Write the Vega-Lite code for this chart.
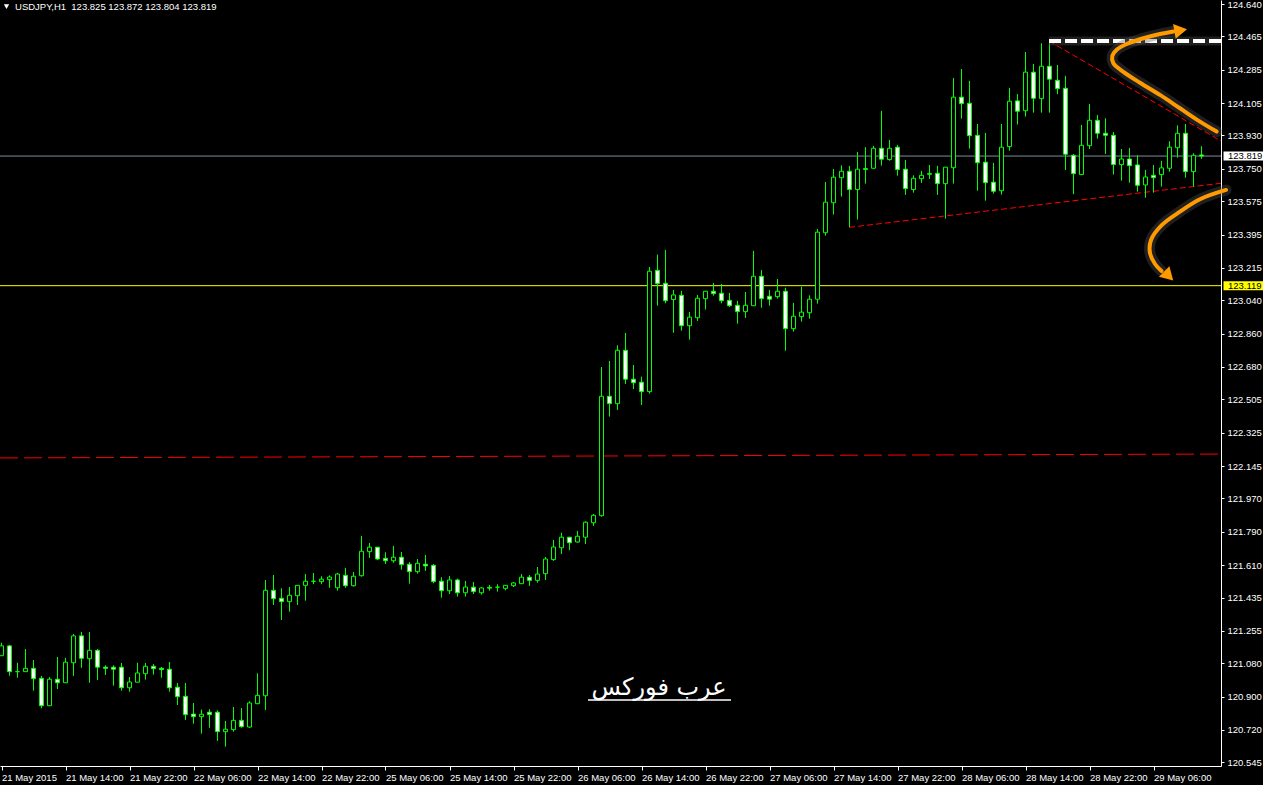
{
"$schema": "https://vega.github.io/schema/vega-lite/v6.json",
"width": 1221, "height": 766,
"autosize": {"type": "none"},
"padding": {"left": 0, "top": 0, "right": 42, "bottom": 19},
"background": "#000000",
"config": {"view": {"stroke": null}, "axis": {"grid": false, "labelOverlap": false}, "scale": {"continuousPadding": 0}},
"datasets": {
"candles": [
{"k":0,"o":121.121,"h":121.191,"l":121.121,"c":121.174},
{"k":1,"o":121.174,"h":121.179,"l":121.013,"c":121.035},
{"k":2,"o":121.035,"h":121.083,"l":121.002,"c":121.035},
{"k":3,"o":121.035,"h":121.157,"l":121.035,"c":121.053},
{"k":4,"o":121.053,"h":121.098,"l":120.932,"c":120.997},
{"k":5,"o":120.999,"h":121.012,"l":120.837,"c":120.851},
{"k":6,"o":120.851,"h":121.006,"l":120.851,"c":120.994},
{"k":7,"o":120.994,"h":121.114,"l":120.941,"c":120.975},
{"k":8,"o":120.975,"h":121.110,"l":120.975,"c":121.086},
{"k":9,"o":121.083,"h":121.238,"l":121.012,"c":121.228},
{"k":10,"o":121.228,"h":121.249,"l":121.056,"c":121.107},
{"k":11,"o":121.105,"h":121.249,"l":120.975,"c":121.150},
{"k":12,"o":121.150,"h":121.157,"l":120.990,"c":121.059},
{"k":13,"o":121.059,"h":121.069,"l":121.017,"c":121.053},
{"k":14,"o":121.059,"h":121.069,"l":120.959,"c":121.048},
{"k":15,"o":121.059,"h":121.082,"l":120.932,"c":120.948},
{"k":16,"o":120.948,"h":121.006,"l":120.927,"c":120.979},
{"k":17,"o":120.978,"h":121.083,"l":120.978,"c":121.028},
{"k":18,"o":121.024,"h":121.082,"l":120.992,"c":121.064},
{"k":19,"o":121.064,"h":121.076,"l":121.019,"c":121.051},
{"k":20,"o":121.053,"h":121.060,"l":121.002,"c":121.046},
{"k":21,"o":121.048,"h":121.087,"l":120.927,"c":120.948},
{"k":22,"o":120.951,"h":120.974,"l":120.855,"c":120.900},
{"k":23,"o":120.902,"h":120.974,"l":120.774,"c":120.803},
{"k":24,"o":120.806,"h":120.866,"l":120.754,"c":120.792},
{"k":25,"o":120.792,"h":120.830,"l":120.700,"c":120.805},
{"k":26,"o":120.816,"h":120.832,"l":120.732,"c":120.803},
{"k":27,"o":120.816,"h":120.826,"l":120.661,"c":120.711},
{"k":28,"o":120.711,"h":120.769,"l":120.630,"c":120.724},
{"k":29,"o":120.722,"h":120.844,"l":120.711,"c":120.772},
{"k":30,"o":120.772,"h":120.839,"l":120.732,"c":120.738},
{"k":31,"o":120.736,"h":120.875,"l":120.732,"c":120.866},
{"k":32,"o":120.862,"h":121.026,"l":120.859,"c":120.907},
{"k":33,"o":120.905,"h":121.530,"l":120.828,"c":121.474},
{"k":34,"o":121.474,"h":121.557,"l":121.395,"c":121.429},
{"k":35,"o":121.431,"h":121.485,"l":121.314,"c":121.413},
{"k":36,"o":121.413,"h":121.492,"l":121.359,"c":121.447},
{"k":37,"o":121.445,"h":121.501,"l":121.395,"c":121.501},
{"k":38,"o":121.501,"h":121.562,"l":121.418,"c":121.523},
{"k":39,"o":121.523,"h":121.568,"l":121.507,"c":121.523},
{"k":40,"o":121.521,"h":121.550,"l":121.507,"c":121.534},
{"k":41,"o":121.532,"h":121.555,"l":121.488,"c":121.546},
{"k":42,"o":121.488,"h":121.568,"l":121.472,"c":121.562},
{"k":43,"o":121.555,"h":121.595,"l":121.488,"c":121.499},
{"k":44,"o":121.499,"h":121.573,"l":121.494,"c":121.550},
{"k":45,"o":121.553,"h":121.768,"l":121.548,"c":121.685},
{"k":46,"o":121.683,"h":121.730,"l":121.649,"c":121.707},
{"k":47,"o":121.707,"h":121.707,"l":121.638,"c":121.643},
{"k":48,"o":121.647,"h":121.680,"l":121.616,"c":121.634},
{"k":49,"o":121.634,"h":121.714,"l":121.623,"c":121.653},
{"k":50,"o":121.653,"h":121.681,"l":121.586,"c":121.613},
{"k":51,"o":121.615,"h":121.626,"l":121.510,"c":121.575},
{"k":52,"o":121.575,"h":121.643,"l":121.564,"c":121.620},
{"k":53,"o":121.615,"h":121.665,"l":121.579,"c":121.606},
{"k":54,"o":121.609,"h":121.616,"l":121.512,"c":121.521},
{"k":55,"o":121.523,"h":121.545,"l":121.434,"c":121.472},
{"k":56,"o":121.472,"h":121.552,"l":121.454,"c":121.530},
{"k":57,"o":121.530,"h":121.537,"l":121.440,"c":121.461},
{"k":58,"o":121.461,"h":121.525,"l":121.440,"c":121.492},
{"k":59,"o":121.491,"h":121.519,"l":121.454,"c":121.467},
{"k":60,"o":121.461,"h":121.492,"l":121.451,"c":121.487},
{"k":61,"o":121.490,"h":121.503,"l":121.472,"c":121.486},
{"k":62,"o":121.491,"h":121.507,"l":121.467,"c":121.491},
{"k":63,"o":121.485,"h":121.501,"l":121.474,"c":121.501},
{"k":64,"o":121.499,"h":121.519,"l":121.492,"c":121.514},
{"k":65,"o":121.510,"h":121.562,"l":121.510,"c":121.545},
{"k":66,"o":121.545,"h":121.557,"l":121.498,"c":121.528},
{"k":67,"o":121.528,"h":121.600,"l":121.515,"c":121.562},
{"k":68,"o":121.564,"h":121.654,"l":121.530,"c":121.643},
{"k":69,"o":121.640,"h":121.746,"l":121.633,"c":121.708},
{"k":70,"o":121.704,"h":121.785,"l":121.670,"c":121.761},
{"k":71,"o":121.761,"h":121.761,"l":121.692,"c":121.731},
{"k":72,"o":121.735,"h":121.795,"l":121.731,"c":121.766},
{"k":73,"o":121.761,"h":121.847,"l":121.724,"c":121.842},
{"k":74,"o":121.839,"h":121.886,"l":121.822,"c":121.879},
{"k":75,"o":121.877,"h":122.680,"l":121.872,"c":122.522},
{"k":76,"o":122.522,"h":122.713,"l":122.412,"c":122.482},
{"k":77,"o":122.482,"h":122.797,"l":122.448,"c":122.770},
{"k":78,"o":122.770,"h":122.864,"l":122.588,"c":122.614},
{"k":79,"o":122.614,"h":122.691,"l":122.561,"c":122.595},
{"k":80,"o":122.598,"h":122.628,"l":122.475,"c":122.547},
{"k":81,"o":122.547,"h":123.220,"l":122.536,"c":123.197},
{"k":82,"o":123.202,"h":123.287,"l":123.011,"c":123.130},
{"k":83,"o":123.132,"h":123.312,"l":123.024,"c":123.038},
{"k":84,"o":123.044,"h":123.096,"l":122.865,"c":123.069},
{"k":85,"o":123.067,"h":123.091,"l":122.876,"c":122.903},
{"k":86,"o":122.903,"h":122.977,"l":122.828,"c":122.949},
{"k":87,"o":122.946,"h":123.069,"l":122.929,"c":123.051},
{"k":88,"o":123.049,"h":123.089,"l":122.990,"c":123.089},
{"k":89,"o":123.089,"h":123.134,"l":123.065,"c":123.076},
{"k":90,"o":123.078,"h":123.128,"l":123.024,"c":123.038},
{"k":91,"o":123.040,"h":123.080,"l":123.004,"c":123.011},
{"k":92,"o":123.013,"h":123.037,"l":122.914,"c":122.979},
{"k":93,"o":122.979,"h":123.085,"l":122.945,"c":123.013},
{"k":94,"o":123.011,"h":123.307,"l":123.011,"c":123.170},
{"k":95,"o":123.170,"h":123.204,"l":123.000,"c":123.049},
{"k":96,"o":123.062,"h":123.096,"l":123.011,"c":123.046},
{"k":97,"o":123.060,"h":123.155,"l":123.049,"c":123.089},
{"k":98,"o":123.089,"h":123.108,"l":122.768,"c":122.887},
{"k":99,"o":122.887,"h":123.026,"l":122.871,"c":122.954},
{"k":100,"o":122.952,"h":123.114,"l":122.925,"c":122.976},
{"k":101,"o":122.973,"h":123.067,"l":122.941,"c":123.046},
{"k":102,"o":123.046,"h":123.425,"l":123.022,"c":123.408},
{"k":103,"o":123.405,"h":123.679,"l":123.389,"c":123.570},
{"k":104,"o":123.567,"h":123.749,"l":123.503,"c":123.705},
{"k":105,"o":123.702,"h":123.769,"l":123.600,"c":123.737},
{"k":106,"o":123.737,"h":123.766,"l":123.435,"c":123.638},
{"k":107,"o":123.638,"h":123.841,"l":123.476,"c":123.748},
{"k":108,"o":123.751,"h":123.867,"l":123.670,"c":123.747},
{"k":109,"o":123.753,"h":123.874,"l":123.751,"c":123.861},
{"k":110,"o":123.861,"h":124.063,"l":123.767,"c":123.802},
{"k":111,"o":123.800,"h":123.906,"l":123.794,"c":123.861},
{"k":112,"o":123.867,"h":123.879,"l":123.713,"c":123.746},
{"k":113,"o":123.748,"h":123.798,"l":123.609,"c":123.643},
{"k":114,"o":123.638,"h":123.715,"l":123.621,"c":123.699},
{"k":115,"o":123.697,"h":123.739,"l":123.674,"c":123.715},
{"k":116,"o":123.724,"h":123.771,"l":123.695,"c":123.721},
{"k":117,"o":123.726,"h":123.766,"l":123.609,"c":123.670},
{"k":118,"o":123.670,"h":123.759,"l":123.481,"c":123.759},
{"k":119,"o":123.756,"h":124.241,"l":123.670,"c":124.137},
{"k":120,"o":124.137,"h":124.289,"l":124.021,"c":124.102},
{"k":121,"o":124.104,"h":124.225,"l":123.859,"c":123.929},
{"k":122,"o":123.931,"h":123.992,"l":123.632,"c":123.783},
{"k":123,"o":123.786,"h":123.944,"l":123.578,"c":123.675},
{"k":124,"o":123.678,"h":123.782,"l":123.616,"c":123.629},
{"k":125,"o":123.632,"h":123.992,"l":123.611,"c":123.867},
{"k":126,"o":123.870,"h":124.187,"l":123.848,"c":124.115},
{"k":127,"o":124.117,"h":124.154,"l":123.989,"c":124.061},
{"k":128,"o":124.064,"h":124.381,"l":124.032,"c":124.272},
{"k":129,"o":124.272,"h":124.316,"l":124.053,"c":124.131},
{"k":130,"o":124.129,"h":124.428,"l":124.053,"c":124.304},
{"k":131,"o":124.304,"h":124.441,"l":124.053,"c":124.234},
{"k":132,"o":124.228,"h":124.311,"l":124.153,"c":124.183},
{"k":133,"o":124.185,"h":124.252,"l":123.744,"c":123.829},
{"k":134,"o":123.823,"h":123.830,"l":123.613,"c":123.724},
{"k":135,"o":123.719,"h":123.987,"l":123.719,"c":123.877},
{"k":136,"o":123.875,"h":124.100,"l":123.857,"c":124.012},
{"k":137,"o":124.012,"h":124.041,"l":123.913,"c":123.942},
{"k":138,"o":123.942,"h":124.023,"l":123.830,"c":123.931},
{"k":139,"o":123.931,"h":123.949,"l":123.719,"c":123.773},
{"k":140,"o":123.773,"h":123.857,"l":123.686,"c":123.803},
{"k":141,"o":123.803,"h":123.863,"l":123.675,"c":123.767},
{"k":142,"o":123.771,"h":123.823,"l":123.627,"c":123.661},
{"k":143,"o":123.663,"h":123.744,"l":123.594,"c":123.706},
{"k":144,"o":123.715,"h":123.771,"l":123.621,"c":123.702},
{"k":145,"o":123.719,"h":123.793,"l":123.654,"c":123.755},
{"k":146,"o":123.753,"h":123.899,"l":123.735,"c":123.867},
{"k":147,"o":123.864,"h":123.985,"l":123.810,"c":123.942},
{"k":148,"o":123.942,"h":123.992,"l":123.702,"c":123.735},
{"k":149,"o":123.735,"h":123.834,"l":123.654,"c":123.823},
{"k":150,"o":123.825,"h":123.872,"l":123.804,"c":123.819}
],
"support": [{"k":-0.1875,"p":122.189},{"k":152.4375,"p":122.210}],
"trend": [
{"id":"lower","k":105.94,"p":123.434},{"id":"lower","k":152.44,"p":123.672},
{"id":"upper","k":130.94,"p":124.440},{"id":"upper","k":152.44,"p":123.900}
],
"cap": [{"k":130.94,"p":124.440},{"k":152.44,"p":124.440}],
"arrows": [
{"id":"up","i":0,"k":151.9,"p":123.951},
{"id":"up","i":1,"k":149.81,"p":124.005},
{"id":"up","i":2,"k":147.31,"p":124.077},
{"id":"up","i":3,"k":144.81,"p":124.149},
{"id":"up","i":4,"k":142.31,"p":124.215},
{"id":"up","i":5,"k":140.23,"p":124.274},
{"id":"up","i":6,"k":138.98,"p":124.320},
{"id":"up","i":7,"k":138.85,"p":124.359},
{"id":"up","i":8,"k":139.4,"p":124.393},
{"id":"up","i":9,"k":140.65,"p":124.424},
{"id":"up","i":10,"k":142.73,"p":124.455},
{"id":"up","i":11,"k":144.81,"p":124.478},
{"id":"up","i":12,"k":146.5,"p":124.492},
{"id":"down","i":0,"k":153.06,"p":123.636},
{"id":"down","i":1,"k":149.81,"p":123.586},
{"id":"down","i":2,"k":147.31,"p":123.519},
{"id":"down","i":3,"k":145.06,"p":123.447},
{"id":"down","i":4,"k":143.69,"p":123.366},
{"id":"down","i":5,"k":143.56,"p":123.296},
{"id":"down","i":6,"k":144.19,"p":123.236},
{"id":"down","i":7,"k":145.0,"p":123.198}
],
"tags": [{"p":123.819,"lo":123.7945,"hi":123.8435,"t":"123.819"},{"p":123.119,"lo":123.0945,"hi":123.1435,"t":"123.119"}],
"one": [{}]
},
"layer": [
{"data":{"name":"support"},"mark":{"type":"line","color":"#ff0000","strokeWidth":1,"strokeDash":[18,6]},
 "encoding":{"x":{"field":"k","type":"quantitative","title":null},"y":{"field":"p","type":"quantitative","title":null}}},
{"data":{"name":"one"},"mark":{"type":"rule","color":"#ffff00","strokeWidth":1},"encoding":{"y":{"datum":123.119}}},
{"data":{"name":"one"},"mark":{"type":"rule","color":"#7f8c9c","strokeWidth":1},"encoding":{"y":{"datum":123.819}}},
{"data":{"name":"trend"},"mark":{"type":"line","color":"#ff0000","strokeWidth":1,"strokeDash":[6,3]},
 "encoding":{"x":{"field":"k","type":"quantitative","title":null},"y":{"field":"p","type":"quantitative","title":null},"detail":{"field":"id"}}},
{"data":{"name":"candles"},"mark":{"type":"rule","color":"#00ff00","strokeWidth":1},
 "encoding":{"x":{"field":"k","type":"quantitative","title":null},"y":{"field":"l","type":"quantitative","title":null},"y2":{"field":"h"}}},
{"data":{"name":"candles"},"mark":{"type":"bar","size":4,"stroke":"#00ff00","strokeWidth":1},
 "encoding":{
  "x":{"field":"k","type":"quantitative","title":null,
   "scale":{"domain":[-0.1875,152.4375],"nice":false,"zero":false,"padding":0},
   "axis":{"orient":"bottom","values":[0,8,16,24,32,40,48,56,64,72,80,88,96,104,112,120,128,136,144],"tickCount":40,
    "labelExpr":"['21 May 2015','21 May 14:00','21 May 22:00','22 May 06:00','22 May 14:00','22 May 22:00','25 May 06:00','25 May 14:00','25 May 22:00','26 May 06:00','26 May 14:00','26 May 22:00','27 May 06:00','27 May 14:00','27 May 22:00','28 May 06:00','28 May 14:00','28 May 22:00','29 May 06:00'][round(datum.value/8)]",
    "labelAlign":"left","labelBaseline":"top","labelPadding":2,"labelOffset":0,"tickSize":4,"labelOverlap":false,"labelFlush":false,"labelBound":false,
    "domainColor":"#ffffff","tickColor":"#ffffff","labelColor":"#ffffff","labelFont":"Liberation Sans","labelFontSize":9.5,"grid":false}},
  "y":{"field":"o","type":"quantitative","title":null,
   "scale":{"domain":[120.5255,124.6616],"nice":false,"zero":false,"padding":0},
   "axis":{"orient":"right","values":[124.640,124.465,124.285,124.105,123.930,123.750,123.575,123.395,123.215,123.040,122.860,122.680,122.505,122.325,122.145,121.970,121.790,121.610,121.435,121.255,121.080,120.900,120.720,120.545],"tickCount":40,
    "format":".3f","tickSize":3,"labelPadding":3,"labelAlign":"left","labelBaseline":"middle","labelOverlap":false,"labelFlush":false,"labelBound":false,
    "domainColor":"#ffffff","tickColor":"#ffffff","labelColor":"#ffffff","labelFont":"Liberation Sans","labelFontSize":9.5,"grid":false}},
  "y2":{"field":"c"},
  "fill":{"condition":{"test":"datum.c < datum.o","value":"#ffffff"},"value":"#000000"}
 }},
{"data":{"name":"cap"},"mark":{"type":"line","color":"#5a5a5a","strokeWidth":9,"opacity":0.35},
 "encoding":{"x":{"field":"k","type":"quantitative","title":null},"y":{"field":"p","type":"quantitative","title":null}}},
{"data":{"name":"cap"},"mark":{"type":"line","color":"#ffffff","strokeWidth":4,"strokeDash":[12,4]},
 "encoding":{"x":{"field":"k","type":"quantitative","title":null},"y":{"field":"p","type":"quantitative","title":null}}},
{"data":{"name":"arrows"},"mark":{"type":"line","color":"#5a5a5a","strokeWidth":11,"opacity":0.35,"interpolate":"catmull-rom","strokeCap":"round"},
 "encoding":{"x":{"field":"k","type":"quantitative","title":null},"y":{"field":"p","type":"quantitative","title":null},"detail":{"field":"id"},"order":{"field":"i"}}},
{"data":{"name":"arrows"},"mark":{"type":"line","color":"#ff9a00","strokeWidth":4,"interpolate":"catmull-rom","strokeCap":"round"},
 "encoding":{"x":{"field":"k","type":"quantitative","title":null},"y":{"field":"p","type":"quantitative","title":null},"detail":{"field":"id"},"order":{"field":"i"}}},
{"data":{"name":"one"},"mark":{"type":"point","shape":"triangle-right","filled":true,"color":"#ff9a00","size":220,"angle":-10,"opacity":1},
 "encoding":{"x":{"datum":147.4},"y":{"datum":124.498}}},
{"data":{"name":"one"},"mark":{"type":"point","shape":"triangle-right","filled":true,"color":"#ff9a00","size":220,"angle":45,"opacity":1},
 "encoding":{"x":{"datum":145.9},"y":{"datum":123.171}}},
{"data":{"name":"one"},"mark":{"type":"text","text":"عرب فوركس","font":"DejaVu Sans","fontSize":24,"color":"#ffffff","align":"center","baseline":"middle"},
 "encoding":{"x":{"datum":82.19},"y":{"datum":120.947}}},
{"data":{"name":"one"},"mark":{"type":"rule","color":"#ffffff","strokeWidth":1.5},
 "encoding":{"x":{"datum":73.31},"x2":{"datum":91.19},"y":{"datum":120.882}}},
{"data":{"name":"one"},"mark":{"type":"text","text":"USDJPY,H1\u00a0\u00a0123.825 123.872 123.804 123.819","font":"Liberation Sans","fontSize":9.5,"color":"#ffffff","align":"left","baseline":"middle"},
 "encoding":{"x":{"datum":1.69},"y":{"datum":124.624}}},
{"data":{"name":"one"},"mark":{"type":"point","shape":"triangle-down","filled":true,"color":"#ffffff","size":28,"opacity":1},
 "encoding":{"x":{"datum":0.625},"y":{"datum":124.626}}},
{"data":{"name":"tags"},"mark":{"type":"rect"},
 "encoding":{"x":{"datum":152.75},"x2":{"datum":157.8},"y":{"field":"lo","type":"quantitative","title":null},"y2":{"field":"hi"},
  "fill":{"condition":{"test":"datum.t == '123.119'","value":"#ffff00"},"value":"#ffffff"}}},
{"data":{"name":"tags"},"mark":{"type":"text","font":"Liberation Sans","fontSize":9.5,"color":"#000000","align":"left","baseline":"middle"},
 "encoding":{"x":{"datum":153.31},"y":{"field":"p","type":"quantitative","title":null},"text":{"field":"t"}}}
]
}
